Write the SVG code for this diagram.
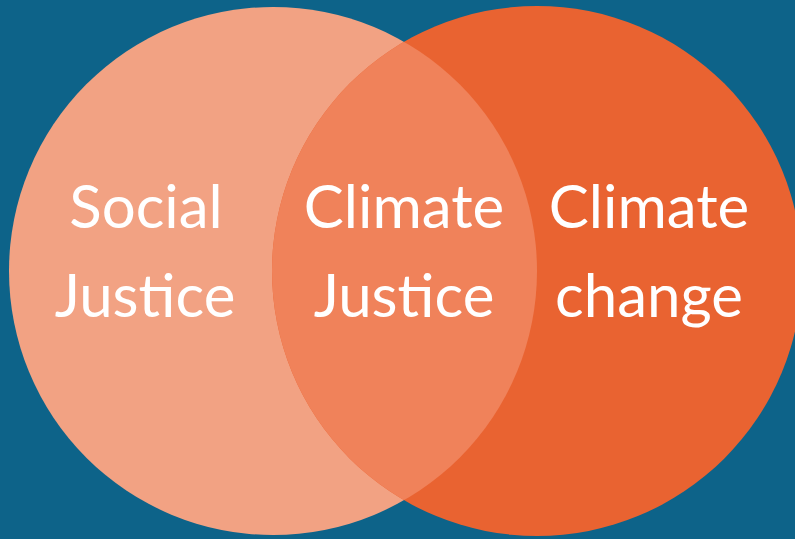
<svg xmlns="http://www.w3.org/2000/svg" width="795" height="539" viewBox="0 0 795 539">
<style>
.lbl{font-family:Lato,"Open Sans","Liberation Sans",sans-serif;font-size:60px;fill:#ffffff;text-anchor:middle}
</style>
<defs>
<clipPath id="clipL"><circle cx="273" cy="271" r="264"/></clipPath>
</defs>
<rect x="0" y="0" width="795" height="539" fill="#0D6389"/>
<g id="social-justice">
<circle cx="273" cy="271" r="264" fill="#F2A283"/>
<text class="lbl" x="146" y="228">Social</text>
<text class="lbl" x="145" y="317">Justice</text>
</g>
<g id="climate-change">
<circle cx="537" cy="271" r="265" fill="#E96331"/>
<text class="lbl" x="649" y="228">Climate</text>
<text class="lbl" x="649" y="317">change</text>
</g>
<g id="climate-justice">
<circle cx="537" cy="271" r="265" fill="#F0825A" clip-path="url(#clipL)"/>
<text class="lbl" x="404" y="228">Climate</text>
<text class="lbl" x="404" y="317">Justice</text>
</g>
<g id="connectors"></g>
</svg>
